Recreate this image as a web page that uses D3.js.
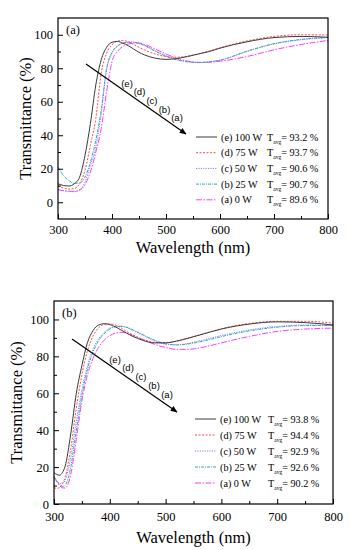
<!DOCTYPE html>
<html><head><meta charset="utf-8">
<script src="https://cdn.jsdelivr.net/npm/d3@7"></script>
<style>body{margin:0;background:#fff}</style>
</head><body>
<svg id="c" width="353" height="550" font-family="Liberation Serif"></svg>
<script>
// ---- data ----
const wavelengths = [300,305,310,315,320,330,340,350,360,370,380,390,400,410,420,430,440,450,460,480,500,520,540,560,580,600,650,700,750,800];
// panel (a)
const aE = [11,10.5,10,9.8,9.7,11,15,28,47,70,85,92.5,95.5,96,95,93.5,91.5,89.5,88,86,85.3,85.8,87,88.5,90,92,95.8,98.3,99,98.5];
const aD = [9.5,9,8.5,8.1,7.8,8.2,11,19,34,50,77,89,94,96.2,96.6,95.8,94.3,92.5,91,88.5,87,86.6,87.2,88.6,90.3,92.2,96.3,99,100,99.8];
const aC = [7.5,7.1,6.8,6.6,6.4,6.3,7.5,12,22,33,53,79,89,93,95,95.6,95.6,95,93.8,90.5,87.5,85.3,84,83.5,83.8,84.8,90,94.5,97,98.3];
const aB = [21,18.3,16,14.3,13,11.3,11.5,15,24,37,55,80,89.5,93.3,95,95.5,95.5,94.8,93.5,90.2,87.2,85,83.8,83.4,83.8,84.8,90.2,94.7,97.2,98.4];
const aA = [7.5,7.2,7,6.8,6.6,6.5,7.3,10.5,18,30,44,66,84,90,93,94.5,95,95,94.3,91.5,88.5,86,84.3,83.5,83.6,84.2,87,91,94.2,96.6];
// panel (b)
const bE = [17,16,15.6,17,20.5,38,60,75,87.5,94,97,97.7,97.2,96,94.3,92.6,91,89.7,88.6,87.3,87.3,88.3,89.8,91.5,93.2,94.8,97.5,98.7,98.3,97];
const bD = [8.8,8.5,9,11,14.5,30,52,70,83,91,95.5,97.3,97.6,97,95.5,93.5,91.8,90.3,89.2,87.6,87.4,88.3,89.8,91.5,93.3,95,97.8,99,99,98];
const bC = [14.8,12.5,11,11,13,25,45,62,75,84,89.5,93,95.3,96.2,96.3,95.6,94.3,92.8,91.3,88.5,86.6,86.3,87,88.3,89.8,91.3,94.3,96.2,97,96.8];
const bB = [15,12.5,10.5,9.5,10.2,20,40,59,73,82.5,88.5,92.3,94.8,96,96.3,95.8,94.6,93.1,91.6,88.8,86.8,86.2,86.7,87.8,89.2,90.7,93.8,95.8,96.7,96.7];
const bA = [14.5,12,10,8.8,8.6,16,35,56,70,79,85,88.8,91.2,92.6,93,92.6,91.6,90.3,89,86.5,84.8,83.8,83.8,84.5,85.8,87.3,90.8,93.5,94.8,95.3];

const seriesLabels = ["(e) 100 W","(d) 75 W","(c) 50 W","(b) 25 W","(a) 0 W"];
const arrowLabels = ["(e)","(d)","(c)","(b)","(a)"];
const tavgA = ["93.2","93.7","90.6","90.7","89.6"];
const tavgB = ["93.8","94.4","92.9","92.6","90.2"];
const xTicks = [300,400,500,600,700,800];
const yTicksA = [0,20,40,60,80,100];
const yTicksB = [0,20,40,60,80,100];

// ---- styles ----
const colors = ["#3a3a3a","#ff4d4d","#8080ff","#2fa8a8","#ff3dff"];
const dashes = [null,"2,1.5","1.2,1.2","3,1,1,1","6,1.5,1.5,1.5"];
const SERIF = "'Liberation Serif'";
const SANS = "'Liberation Sans'";

const svg = d3.select("#c");

function txt(sel, fam, size){ return sel.attr("font-family",fam.replace(/'/g,"")).style("font-family",fam).style("font-size",size+"px"); }

function panel(o){
  const x = d3.scaleLinear().domain([300,800]).range([o.left,o.right]);
  const y = d3.scaleLinear().domain(o.ydom).range([o.bottom,o.top]);
  const g = svg.append("g");
  const line = d3.line().x((d,i)=>x(wavelengths[i])).y(d=>y(d)).curve(d3.curveMonotoneX);
  for(let k=o.series.length-1;k>=0;k--){
    g.append("path").attr("d",line(o.series[k])).attr("fill","none")
      .attr("stroke",colors[k]).attr("stroke-width",1)
      .attr("stroke-dasharray",dashes[k]);
  }
  const xAx = d3.axisBottom(x).tickValues(xTicks).tickSize(-5).tickPadding(o.xpad).tickFormat(d3.format("d"));
  const xMinor = d3.axisBottom(x).tickValues(d3.range(350,800,100)).tickSize(-3).tickFormat("");
  const yAx = d3.axisLeft(y).tickValues(o.yticks).tickSize(-5).tickPadding(5).tickFormat(d3.format("d"));
  const yMinor = d3.axisLeft(y).tickValues(o.yminor).tickSize(-3).tickFormat("");
  [[xAx,"translate(0,"+o.bottom+")"],[xMinor,"translate(0,"+o.bottom+")"],[yAx,"translate("+o.left+",0)"],[yMinor,"translate("+o.left+",0)"]].forEach(([ax,t])=>{
    const a = g.append("g").attr("transform",t).call(ax).attr("font-family","Liberation Serif");
    a.select(".domain").remove();
    a.selectAll("line").attr("stroke","#000").attr("stroke-width",1);
    txt(a.selectAll("text"),SERIF,12.5).attr("fill","#000");
  });
  g.append("rect").attr("x",o.left).attr("y",o.top).attr("width",o.right-o.left).attr("height",o.bottom-o.top)
    .attr("fill","none").attr("stroke","#000").attr("stroke-width",1.2);
  txt(g.append("text"),SERIF,12.5).attr("x",o.left+8).attr("y",o.top+16).text(o.tag);
  txt(g.append("text"),SERIF,16.5).attr("x",(o.left+o.right)/2).attr("y",o.xTitleY).attr("text-anchor","middle").text("Wavelength (nm)");
  txt(g.append("text"),SERIF,16.5).attr("transform","translate("+o.yTitleX+","+((o.top+o.bottom)/2)+") rotate(-90)")
    .attr("text-anchor","middle").text("Transmittance (%)");
  g.append("line").attr("x1",o.arrow[0]).attr("y1",o.arrow[1]).attr("x2",o.arrow[2]).attr("y2",o.arrow[3])
    .attr("stroke","#000").attr("stroke-width",1.2).attr("marker-end","url(#ah)");
  arrowLabels.forEach((t,i)=>{
    txt(g.append("text"),SANS,9.5).attr("x",o.alab[0]+i*o.alab[2]).attr("y",o.alab[1]+i*o.alab[3]+3.5)
      .attr("text-anchor","middle").text(t);
  });
  seriesLabels.forEach((t,i)=>{
    const yy = o.leg[1]+i*o.leg[2];
    g.append("line").attr("x1",o.leg[0]).attr("x2",o.leg[0]+21).attr("y1",yy).attr("y2",yy)
      .attr("stroke",colors[i]).attr("stroke-width",1).attr("stroke-dasharray",dashes[i]);
    txt(g.append("text"),SERIF,10.2).attr("x",o.leg[0]+25).attr("y",yy+3.5).text(t);
    const tt = txt(g.append("text"),SERIF,10.2).attr("x",o.leg[3]).attr("y",yy+3.5);
    tt.append("tspan").text("T");
    tt.append("tspan").style("font-size","5.5px").attr("dy",3).text("avg");
    tt.append("tspan").attr("dy",-3).text("= "+o.tavg[i]+" %");
  });
}

svg.append("defs").append("marker").attr("id","ah").attr("viewBox","0 0 10 10").attr("refX",9).attr("refY",5)
  .attr("markerWidth",7).attr("markerHeight",7).attr("orient","auto").attr("markerUnits","userSpaceOnUse")
  .append("path").attr("d","M0,1 L10,5 L0,9 Z").attr("fill","#000");

panel({left:58,right:328,top:18,bottom:219,ydom:[-10,110],yticks:yTicksA,yminor:[10,30,50,70,90],xpad:6,
  series:[aE,aD,aC,aB,aA],tag:"(a)",xTitleY:253,yTitleX:31,
  arrow:[86,64,186,134],alab:[127,83,12.5,8.7],leg:[196,137,15.7,267],tavg:tavgA});
panel({left:54,right:333,top:301,bottom:504,ydom:[0,110],yticks:yTicksB,yminor:[10,30,50,70,90],xpad:8,
  series:[bE,bD,bC,bB,bA],tag:"(b)",xTitleY:543,yTitleX:22,
  arrow:[72,339,177,412],alab:[115,359,13,8.8],leg:[195,419,16,268],tavg:tavgB});
</script>
</body></html>
